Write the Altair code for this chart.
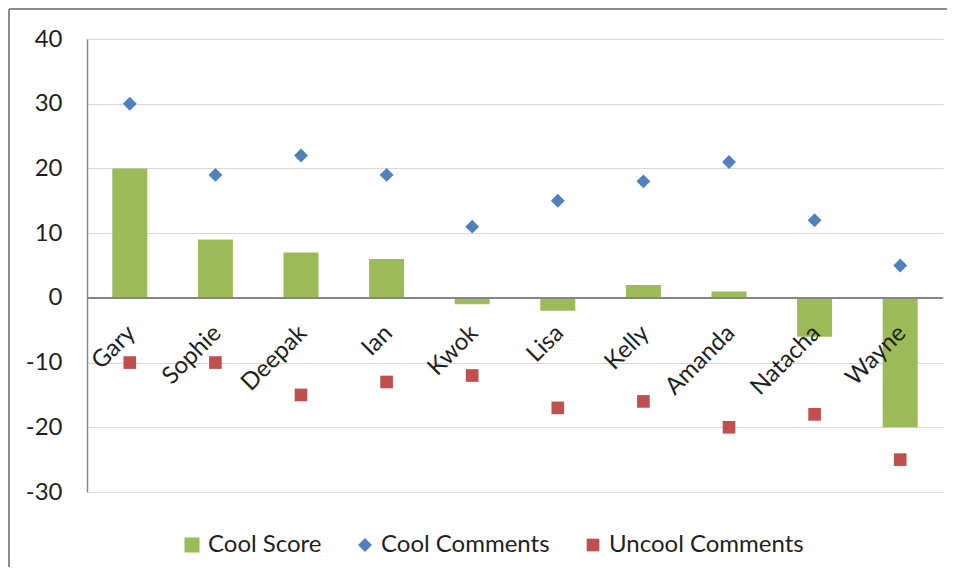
import altair as alt
import pandas as pd

names = ["Gary", "Sophie", "Deepak", "Ian", "Kwok", "Lisa", "Kelly", "Amanda", "Natacha", "Wayne"]
cool_score = [20, 9, 7, 6, -1, -2, 2, 1, -6, -20]
cool_comments = [30, 19, 22, 19, 11, 15, 18, 21, 12, 5]
uncool_comments = [-10, -10, -15, -13, -12, -17, -16, -20, -18, -25]
series_names = ["Cool Score", "Cool Comments", "Uncool Comments"]
series_colors = ["#9BBB59", "#4F81BD", "#C0504D"]
series_shapes = ["square", "diamond", "square"]
series_sizes = [225, 160, 155]
y_ticks = [-30, -20, -10, 0, 10, 20, 30, 40]

rows = []
for s, vals in zip(series_names, [cool_score, cool_comments, uncool_comments]):
    for n, v in zip(names, vals):
        rows.append({"name": n, "series": s, "value": v})
df = pd.DataFrame(rows)
labels_df = pd.DataFrame({"name": names})

FONT = "Lato"
TXT = "#1f1f1f"
W, H = 856, 453

x_enc = alt.X("name:N", sort=names, axis=None,
              scale=alt.Scale(paddingInner=0, paddingOuter=0))
y_scale = alt.Scale(domain=[-30, 40], nice=False, zero=False)

color = alt.Color("series:N", title=None,
                  scale=alt.Scale(domain=series_names, range=series_colors),
                  legend=alt.Legend(orient="none", legendX=93, legendY=494,
                                    direction="horizontal", labelFont=FONT,
                                    labelFontSize=24, labelColor=TXT,
                                    labelOffset=4, columnPadding=31,
                                    labelLimit=400,
                                    symbolStrokeWidth=0))
shape = alt.Shape("series:N", title=None,
                  scale=alt.Scale(domain=series_names, range=series_shapes))
size = alt.Size("series:N", title=None,
                scale=alt.Scale(domain=series_names, range=series_sizes))

base = alt.Chart(df)

bars = base.transform_filter(alt.datum.series == "Cool Score").mark_bar(size=35).encode(
    x=x_enc,
    y=alt.Y("value:Q", scale=y_scale,
            axis=alt.Axis(values=y_ticks, title=None, labelFont=FONT,
                          labelFontSize=24, labelColor=TXT, labelPadding=25,
                          labelExpr="'' + datum.value",
                          ticks=False, domainColor="#868686", domainWidth=1.5,
                          gridColor="#D9D9D9", gridWidth=1.2)),
    color=color,
)

zero_rule = alt.Chart(labels_df).mark_rule(color="#868686", strokeWidth=1.5).encode(
    y=alt.datum(0),
)

texts = alt.Chart(labels_df).mark_text(
    angle=315, align="right", baseline="top", dx=-21, dy=12,
    font=FONT, fontSize=24, color=TXT
).encode(
    x=x_enc,
    y=alt.datum(0),
    text="name:N",
)

points = base.transform_filter(alt.datum.series != "Cool Score").mark_point(
    filled=True, opacity=1
).encode(
    x=x_enc,
    y=alt.Y("value:Q", scale=y_scale),
    color=color,
    shape=shape,
    size=size,
)

border_top = alt.Chart(labels_df).mark_rule(color="#8C8C8C", strokeWidth=2).encode(
    x=alt.value(-78), x2=alt.value(860), y=alt.value(-30)
)
border_left = alt.Chart(labels_df).mark_rule(color="#8C8C8C", strokeWidth=2).encode(
    x=alt.value(-78), y=alt.value(-30), y2=alt.value(528)
)

chart = alt.layer(bars, zero_rule, texts, points, border_top, border_left).properties(
    width=W, height=H, padding=0
).configure_view(stroke=None)

chart.save("out.html", embed_options={"renderer": "svg", "actions": False})
